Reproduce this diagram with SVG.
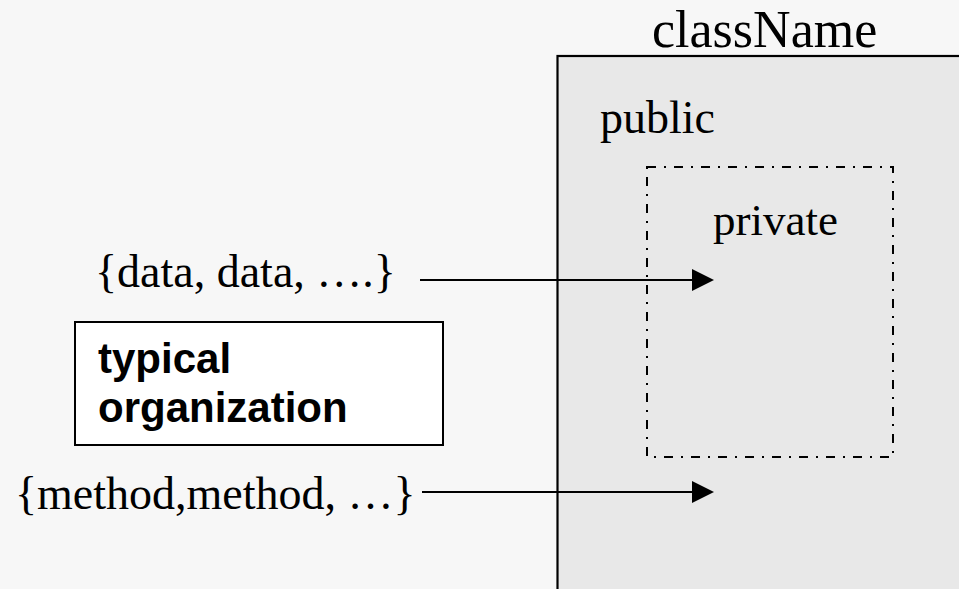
<svg xmlns="http://www.w3.org/2000/svg" width="959" height="589" viewBox="0 0 959 589">
  <style>
    .serif { font-family: "Liberation Serif", "Times New Roman", serif; fill: #000; }
    .sans { font-family: "Liberation Sans", Arial, sans-serif; font-weight: bold; fill: #000; }
    .conn { stroke: #000; stroke-width: 2.2; fill: none; }
  </style>
  <defs>
    <marker id="arrow" markerUnits="userSpaceOnUse" markerWidth="22" markerHeight="24" refX="0" refY="12" orient="auto">
      <path d="M0,1 L22,12 L0,23 Z" fill="#000"/>
    </marker>
  </defs>
  <rect x="0" y="0" width="959" height="589" fill="#f7f7f7"/>

  <g id="class-box">
    <rect x="557.5" y="56" width="430" height="560" fill="#e8e8e8" stroke="#000" stroke-width="2.2"/>
    <text class="serif" x="652" y="47" font-size="52">className</text>
    <text class="serif" x="600" y="133" font-size="46">public</text>
  </g>

  <g id="private-box">
    <rect x="647" y="167" width="246" height="290" fill="none" stroke="#000" stroke-width="2" stroke-dasharray="9 8 2 8"/>
    <text class="serif" x="713" y="235" font-size="45">private</text>
  </g>

  <g id="data-label">
    <text class="serif" x="95" y="287" font-size="46">{data, data, ….}</text>
  </g>

  <g id="method-label">
    <text class="serif" x="15" y="509" font-size="46">{method,method, …}</text>
  </g>

  <g id="typical-organization">
    <rect x="75" y="322" width="368" height="123" fill="#fff" stroke="#000" stroke-width="2"/>
    <text class="sans" x="98" y="373" font-size="42">typical</text>
    <text class="sans" x="98" y="422" font-size="42">organization</text>
  </g>

  <g id="connectors">
    <line class="conn" x1="420" y1="280" x2="692" y2="280" marker-end="url(#arrow)"/>
    <line class="conn" x1="422" y1="492" x2="692" y2="492" marker-end="url(#arrow)"/>
  </g>
</svg>
